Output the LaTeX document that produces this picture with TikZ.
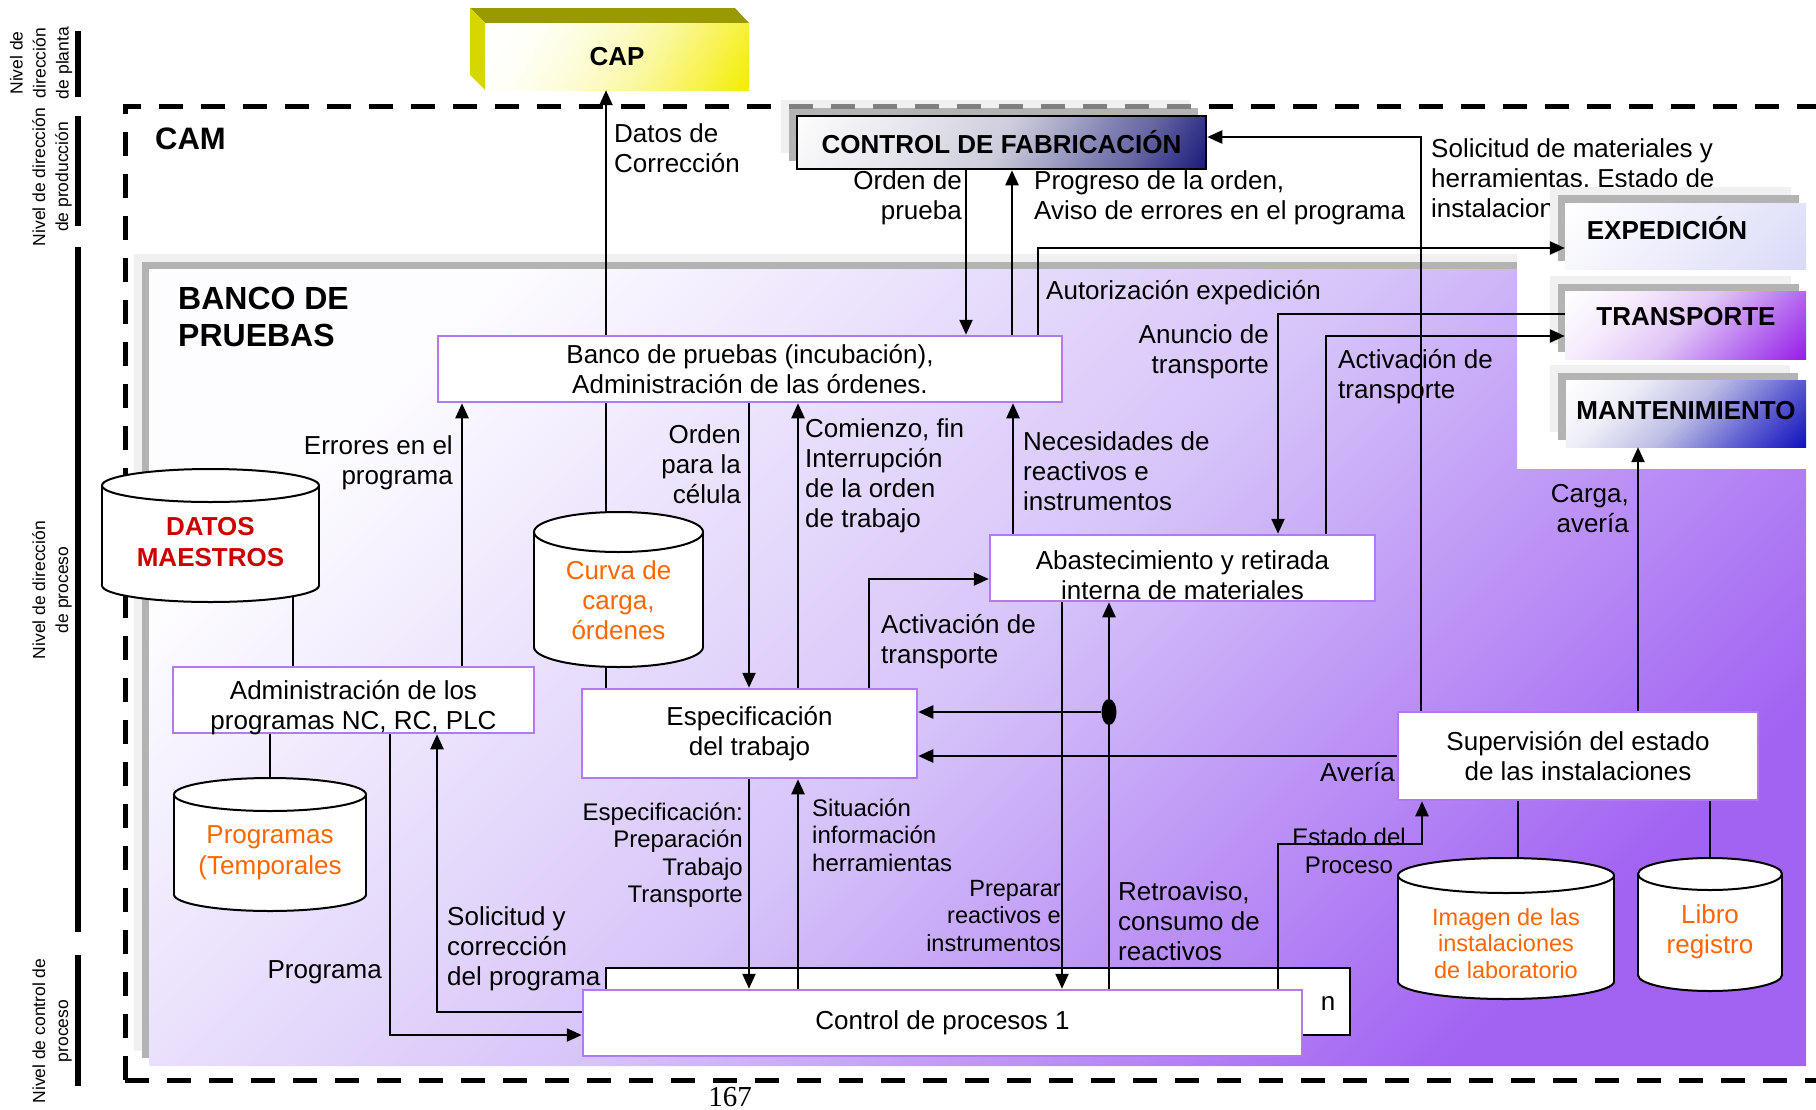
\documentclass[tikz,border=0pt]{standalone}
\usepackage{fontspec}
\setmainfont{Liberation Sans}
\newfontfamily\pagefont{Liberation Serif}
\usetikzlibrary{arrows.meta,shapes.geometric}
\definecolor{lilac}{RGB}{178,122,240}
\definecolor{banklight}{RGB}{253,252,255}
\definecolor{bankmid}{RGB}{214,196,249}
\definecolor{bankdark}{RGB}{162,99,242}
\definecolor{shadelight}{RGB}{240,240,240}
\definecolor{shademid}{RGB}{179,179,179}
\definecolor{captop}{RGB}{153,153,0}
\definecolor{capside}{RGB}{214,214,0}
\definecolor{datared}{RGB}{204,0,0}
\definecolor{fileorange}{RGB}{255,102,0}
\pgfdeclarehorizontalshading{capshade}{100bp}{rgb(0bp)=(1,1,1); rgb(16bp)=(1,1,1);
  rgb(28bp)=(1,1,0.97); rgb(41bp)=(0.99,0.99,0.85); rgb(50bp)=(0.99,0.98,0.75);
  rgb(59bp)=(0.98,0.97,0.6); rgb(72bp)=(0.97,0.95,0.3); rgb(84bp)=(0.95,0.93,0); rgb(100bp)=(0.95,0.93,0)}
\pgfdeclarehorizontalshading{fabshade}{100bp}{rgb(0bp)=(1,1,1); rgb(16bp)=(0.99,0.99,0.99);
  rgb(28bp)=(0.93,0.93,0.95); rgb(41bp)=(0.86,0.86,0.9); rgb(50bp)=(0.8,0.8,0.86);
  rgb(59bp)=(0.64,0.64,0.77); rgb(66bp)=(0.5,0.5,0.7); rgb(72bp)=(0.4,0.4,0.64);
  rgb(78bp)=(0.25,0.25,0.56); rgb(84bp)=(0.11,0.11,0.48); rgb(100bp)=(0.11,0.11,0.48)}
\pgfdeclarehorizontalshading{expshade}{100bp}{rgb(0bp)=(1,1,1); rgb(15bp)=(1,1,1);
  rgb(85bp)=(0.855,0.855,0.973); rgb(100bp)=(0.855,0.855,0.973)}
\pgfdeclarehorizontalshading{transshade}{100bp}{rgb(0bp)=(1,1,1); rgb(15bp)=(1,1,1);
  rgb(32bp)=(0.96,0.92,0.99); rgb(50bp)=(0.88,0.77,0.965); rgb(68bp)=(0.72,0.44,0.94);
  rgb(85bp)=(0.6,0.12,0.91); rgb(100bp)=(0.6,0.12,0.91)}
\pgfdeclarehorizontalshading{mantshade}{100bp}{rgb(0bp)=(1,1,1); rgb(15bp)=(1,1,1);
  rgb(32bp)=(0.93,0.93,0.97); rgb(50bp)=(0.74,0.74,0.9); rgb(68bp)=(0.38,0.38,0.82);
  rgb(85bp)=(0.07,0.07,0.75); rgb(100bp)=(0.07,0.07,0.75)}
\newcommand{\drum}[6]{%
  \filldraw[fill=white,line width=2pt] (#2,#5-#6) ellipse [x radius=#3,y radius=#6];
  \fill[white] (#2-#3,#4+#6) rectangle (#2+#3,#5-#6);
  \draw[line width=2pt] (#2-#3,#4+#6) -- (#2-#3,#5-#6) (#2+#3,#4+#6) -- (#2+#3,#5-#6);
  \filldraw[fill=white,line width=2pt] (#2,#4+#6) ellipse [x radius=#3,y radius=#6];
  \coordinate (#1top) at (#2,#4);
  \coordinate (#1bot) at (#2,#5);
}

\begin{document}
\begin{tikzpicture}[x=1pt,y=-1pt,
  txt/.style={font=\fontsize{26}{30}\selectfont,inner sep=0pt},
  sml/.style={font=\fontsize{24}{27.5}\selectfont,inner sep=0pt},
  ttl/.style={font=\fontsize{26}{30}\selectfont\bfseries,inner sep=0pt},
  lvl/.style={font=\fontsize{17.5}{23}\selectfont,inner sep=0pt,rotate=90,align=center},
  pbox/.style={draw=lilac,line width=2.5pt,fill=white,inner sep=0pt,align=center,font=\fontsize{26}{30}\selectfont},
  dbtxt/.style={txt,text=fileorange,align=center},
  ln/.style={line width=2.4pt},
  arr/.style={line width=2.4pt,-{Triangle[length=15pt,width=13pt]}},
  cam/.style={line width=5pt,dash pattern=on 24pt off 18pt}]
\useasboundingbox (0,0) rectangle (1816,1109);

\draw[line width=6pt] (77.5,31) -- (77.5,97);
\draw[line width=6pt] (77.5,116) -- (77.5,226);
\draw[line width=6pt] (77.5,247) -- (77.5,932);
\draw[line width=6pt] (77.5,955) -- (77.5,1086);
\node[lvl] (lvplanta) at (41,63) {Nivel de\\dirección\\de planta};
\node[lvl] (lvprod) at (52,177) {Nivel de dirección\\de producción};
\node[lvl] (lvproc) at (52,590) {Nivel de dirección\\de proceso};
\node[lvl] (lvctrl) at (52,1031) {Nivel de control de\\proceso};

\fill[shadelight] (134,254) rectangle (1517,1051);
\fill[shademid] (142,262) rectangle (1517,1058);
\shade[top color=banklight,bottom color=bankdark,middle color=bankmid,shading angle=45]
  (149,269) -- (1517,269) -- (1517,469) -- (1806,469) -- (1806,1066) -- (149,1066) -- cycle;

\draw[cam] (125,1080) -- (125,106) -- (1840,106);
\draw[cam] (125,1080) -- (1840,1080);
\node[font=\fontsize{31}{36}\selectfont\bfseries,anchor=west,inner sep=0pt] (camtitle) at (155,139) {CAM};
\node[font=\fontsize{32}{37}\selectfont\bfseries,anchor=west,align=left,inner sep=0pt] (bancotitle) at (178,317) {BANCO DE\\PRUEBAS};

\fill[captop] (470,8) -- (735,8) -- (749,23) -- (485,23) -- cycle;
\fill[capside] (470,8) -- (485,23) -- (485,90) -- (470,75) -- cycle;
\node[ttl,minimum width=264,minimum height=67,shade,shading=capshade,shading angle=-30] (cap) at (617,56.5) {CAP};

\node[draw,line width=2pt,fill=white,minimum width=744,minimum height=67] (nbox) at (978,1001.5) {};
\node[txt] (nlbl) at (1328,1003) {n};

\node[pbox,minimum width=624,minimum height=66] (banco) at (750,369) {Banco de pruebas (incubación),\\Administración de las órdenes.};
\node[pbox,minimum width=361,minimum height=66] (admin) at (353.5,700) {};
\node[txt,align=center] (admintxt) at (353.5,708) {Administración de los\\programas NC, RC, PLC};
\node[pbox,minimum width=335,minimum height=89] (esp) at (749.5,733.5) {Especificación\\del trabajo};
\node[pbox,minimum width=385,minimum height=66] (abas) at (1182.5,568) {};
\node[txt,align=center] (abastxt) at (1182.5,575.5) {Abastecimiento y retirada\\interna de materiales};
\node[pbox,minimum width=360,minimum height=88] (sup) at (1578,756) {Supervisión del estado\\de las instalaciones};
\node[pbox,minimum width=719,minimum height=66] (ctrl) at (942.5,1023) {Control de procesos 1};

\drum{datos}{210.5}{108.5}{469}{602}{16.5}
\node[dbtxt,font=\fontsize{26}{31}\selectfont\bfseries,text=datared] (datos) at (210.5,542.5) {DATOS\\MAESTROS};
\drum{prog}{270}{96}{778}{911}{16.5}
\node[dbtxt,font=\fontsize{26}{31}\selectfont] (prog) at (270,852.5) {Programas\\(Temporales};
\drum{curva}{618.5}{84.5}{512}{667}{20}
\node[dbtxt] (curva) at (618.5,600) {Curva de\\carga,\\órdenes};
\drum{imagen}{1506}{108}{858}{999}{17.5}
\node[dbtxt,font=\fontsize{23.5}{26.5}\selectfont] (imagen) at (1506,943.5) {Imagen de las\\instalaciones\\de laboratorio};
\drum{libro}{1710}{72}{858}{991}{16}
\node[dbtxt] (libro) at (1710,932) {Libro\\registro};

\node[txt,anchor=west,align=left] (ldatos) at (614,148) {Datos de\\Corrección};
\node[txt,anchor=east,align=right] (lorden) at (962,198) {Orden de\\prueba};
\node[txt,anchor=west,align=left] (lprog) at (1034,198) {Progreso de la orden,\\Aviso de errores en el programa};
\node[txt,anchor=west] (lautor) at (1046,293) {Autorización expedición};
\node[txt,anchor=west,align=left] (lsolic) at (1431,178) {Solicitud de materiales y\\herramientas, Estado de\\instalaciones};
\node[txt,anchor=east,align=right] (lanunc) at (1269,352) {Anuncio de\\transporte};
\node[txt,anchor=west,align=left] (lactiv) at (1338,377) {Activación de\\transporte};
\node[txt,anchor=west,align=left] (lneces) at (1023,471) {Necesidades de\\reactivos e\\instrumentos};
\node[txt,anchor=west,align=left] (lcomien) at (805,476) {Comienzo, fin\\Interrupción\\de la orden\\de trabajo};
\node[txt,anchor=east,align=right] (lcelula) at (741,464) {Orden\\para la\\célula};
\node[txt,anchor=east,align=right] (lerror) at (453,463) {Errores en el\\programa};
\node[txt,anchor=west,align=left] (lactiv2) at (881,642) {Activación de\\transporte};
\node[txt,anchor=east] (laveria) at (1395,772) {Avería};
\node[txt,anchor=west,align=left] (lretro) at (1118,921) {Retroaviso,\\consumo de\\reactivos};
\node[sml,font=\fontsize{23.5}{27.5}\selectfont,anchor=east,align=right] (lprep) at (1061,916) {Preparar\\reactivos e\\instrumentos};
\node[sml,anchor=east,align=right] (lespec) at (743,855) {Especificación:\\Preparación\\Trabajo\\Transporte};
\node[sml,anchor=west,align=left] (lsitu) at (812,835) {Situación\\información\\herramientas};
\node[sml,align=center] (lestado) at (1349,851) {Estado del\\Proceso};
\node[txt,anchor=east,align=right] (lcarga) at (1629,509) {Carga,\\avería};
\node[txt,anchor=east] (lprograma) at (382,972) {Programa};
\node[txt,anchor=west,align=left] (lsolcor) at (447,949) {Solicitud y\\corrección\\del programa};

\fill[shadelight] (781,100) rectangle ++(409,53);
\fill[shademid] (789,108) rectangle ++(409,53);
\begin{scope}
\clip (781,95) rectangle (1199,115);
\draw[cam,black!50] (125,1080) -- (125,106) -- (1840,106);
\end{scope}
\node[ttl,draw,line width=2.5pt,minimum width=409,minimum height=53,shade,shading=fabshade,shading angle=-30] (fab) at (1001.5,142.5) {CONTROL DE FABRICACIÓN};

\fill[shadelight] (1550,187) rectangle ++(241,66);
\fill[shademid] (1558,195) rectangle ++(241,66);
\node[minimum width=241,minimum height=66,shade,shading=expshade,shading angle=-45] (exped) at (1685.5,236) {};
\node[ttl] (expedtxt) at (1667,228) {EXPEDICIÓN};
\fill[shadelight] (1550,276) rectangle ++(241,68);
\fill[shademid] (1558,284) rectangle ++(241,68);
\node[minimum width=241,minimum height=68,shade,shading=transshade,shading angle=-45] (transp) at (1685.5,325) {};
\node[ttl] (transptxt) at (1686,317) {TRANSPORTE};
\fill[shadelight] (1550,365) rectangle ++(240,67);
\fill[shademid] (1558,373) rectangle ++(240,67);
\node[minimum width=240,minimum height=67,shade,shading=mantshade,shading angle=-45] (mant) at (1686,413.5) {};
\node[ttl] (manttxt) at (1686,411) {MANTENIMIENTO};

\draw[ln] ([xshift=82.5pt,yshift=5pt]datosbot) -- (293,0 |- admin.north);
\draw[ln] (progtop |- admin.south) -- (progtop);
\draw[ln] (606,0 |- banco.south) -- (606,0 |- curvatop);
\draw[ln] (606,0 |- curvabot) -- (606,0 |- esp.north);
\draw[ln] (1518,0 |- sup.south) -- (1518,0 |- imagentop);
\draw[ln] (librotop |- sup.south) -- (librotop);

\draw[arr] (606,0 |- banco.north) -- (606,0 |- cap.south);
\draw[arr] (966,0 |- fab.south) -- (966,0 |- banco.north);
\draw[arr] (1012,0 |- banco.north) -- (1012,0 |- fab.south);
\draw[arr] (1038,0 |- banco.north) |- (exped.west |- 0,248);
\draw[arr] (1421,0 |- sup.north) |- (fab.east |- 0,137);
\draw[arr] (transp.west |- 0,314) -| (1278,0 |- abas.north);
\draw[arr] (1326,0 |- abas.north) |- (transp.west |- 0,336);
\draw[arr] (1013,0 |- abas.north) -- (1013,0 |- banco.south);
\draw[arr] (798,0 |- esp.north) -- (798,0 |- banco.south);
\draw[arr] (749,0 |- banco.south) -- (749,0 |- esp.north);
\draw[arr] (462,0 |- admin.north) -- (462,0 |- banco.south);
\draw[arr] (869,0 |- esp.north) |- (abas.west |- 0,579);

\node[ellipse,fill,inner sep=0pt,minimum width=15,minimum height=26] (dot) at (1109,712) {};
\draw[arr] (dot) -- (esp.east |- dot);
\draw[arr] (dot |- ctrl.north) -- (dot |- abas.south);
\draw[arr] (sup.west) -- (esp.east |- sup.west);
\draw[arr] (1062,0 |- abas.south) -- (1062,0 |- ctrl.north);
\draw[arr] (749,0 |- esp.south) -- (749,0 |- ctrl.north);
\draw[arr] (798,0 |- ctrl.north) -- (798,0 |- esp.south);
\draw[arr] (1278,0 |- ctrl.north) |- (1422,844) -- (1422,0 |- sup.south);
\draw[arr] (1638,0 |- sup.north) -- (1638,0 |- mant.south);
\draw[arr] (390,0 |- admin.south) |- (ctrl.west |- 0,1035);
\draw[arr] (ctrl.west |- 0,1012) -| (437,0 |- admin.south);

\node[font=\pagefont\fontsize{29}{30}\selectfont,anchor=base,inner sep=0pt] (pagenum) at (730,1106) {167};
\end{tikzpicture}
\end{document}
